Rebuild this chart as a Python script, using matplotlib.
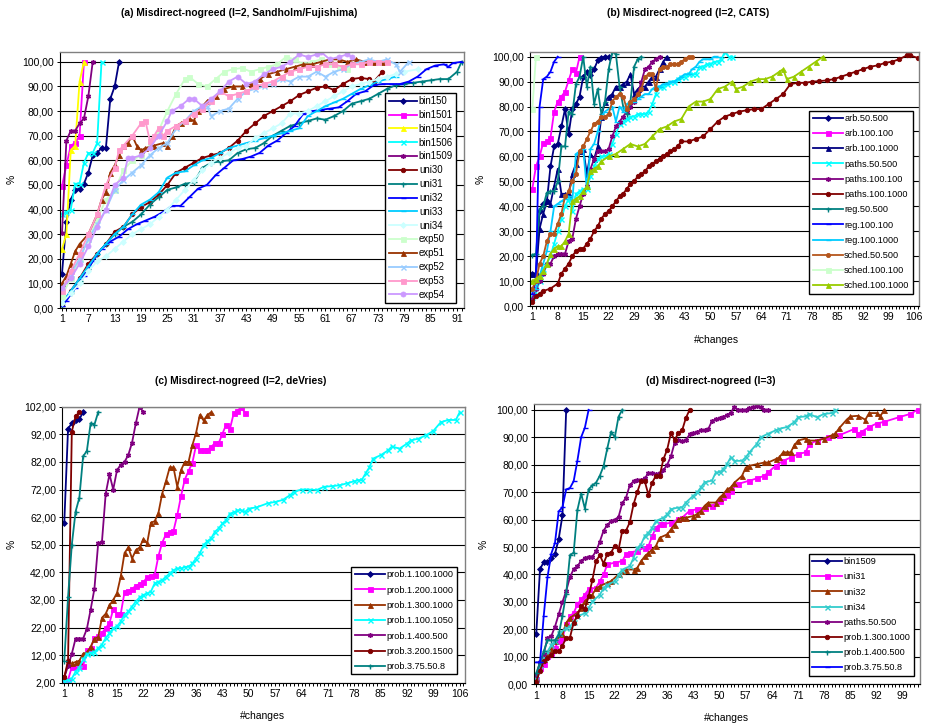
import matplotlib
matplotlib.use("Agg")
import matplotlib.pyplot as plt

plt.rcParams['font.family'] = ['Liberation Sans', 'DejaVu Sans']

# ---------------- Panel (a) ----------------
a_bin150 = [14, 35, 44, 48, 48.5, 50.5, 55, 62, 63, 65, 65, 85, 90, 100]
a_bin1501 = [49.5, 58, 66, 67, 70, 100]
a_bin1504 = [24, 30, 64, 66, 92, 100]
a_bin1506 = [38, 39, 40, 50.5, 50.5, 59, 63, 63, 67, 100]
a_bin1509 = [30.5, 68, 72, 72, 75, 77, 86, 100]
a_uni30_x = [1,3,5,7,9,11,13,15,17,19,21,23,25,27,29,31,33,35,37,39,41,43,45,47,49,51,53,55,57,59,61,63,65,67,69,71,72,74]
a_uni30_y = [1.5,7,12,18,22,26,31,33,38,41,43,46,50,55,57,59,61,62,63,65,68,72,75,78,80,82,84,86.5,88,89.5,90,88.5,91,93,93.5,93,92,96]
a_uni31_x = [1,3,5,7,9,11,13,15,17,19,21,23,25,27,29,31,33,35,37,39,41,43,45,47,49,51,53,55,57,59,61,63,65,67,69,71,73,75,77,79,81,83,85,87,89,91,92]
a_uni31_y = [1,6,11,16,22,26,30,33,35,38,42,45,48,49,50.5,51,57,59,59.5,60,63,64.5,65,67,70,72,74,75,76,77,76.5,78,80,83,84,85,87,89,90.5,91,91.5,92,92.5,93,93,96,100]
a_uni32_x = [1,2,4,6,8,10,12,14,16,18,20,22,24,26,28,30,32,34,36,38,40,42,44,46,48,50,52,54,56,58,60,62,64,66,68,70,72,74,76,78,80,82,84,86,88,89,90,92]
a_uni32_y = [1,3,8,13,19,24,27,29,32,34,35.5,37,39,41.5,41.5,45,48.5,50,54,57,60,60.5,61.5,63,66,68,71,74,79,80,80.5,81,81.5,84,87,88,90.5,91,91,91,92,94,97,98.5,99,98,99.5,100]
a_uni33_x = list(range(1, 78, 2))
a_uni33_y = [2,7,12,17,22,26,30,33,38,42,44,47,53,55,55.5,58,60,61,63,65,66,67,68,69,70,71,72,73,78,80,82,83.5,85,87,89,90.5,92,93,94]
a_uni34_x = list(range(1, 80, 2)) + [82]
a_uni34_y = [2,6,10,15,19,21,24,27,30,32,34,37,40,44,48,52,56,59,61,63,65,66,69,71,73,75,79,79,80,82,84,86,88,90,91,92,93,94,95,96,97]
a_exp50_x = [1,3,5,7,9,11,13,15,17,19,21,23,25,27,29,30,32,34,36,38,40,42,44,46,48,50,52,54,56,58,60,62,64,66]
a_exp50_y = [5,12,20,28,36,44,48,56,60,62,66,72,80,87,93,94,91,90,93,96,97,97.5,96,97,98,99,102,101,99,100,101,99,98,97]
a_exp51_x = [1,2,3,4,5,7,9,10,11,12,13,14,15,16,17,18,19,20,22,24,25,26,27,28,29,30,31,32,33,34,36,38,40,42,44,46,48,50,52,54,56,58,60,62,64,66,68,70,72,74]
a_exp51_y = [10,13,18,23,26,30,38,44,47,55,58,62,66,67,70,66,64,65,66,67,66,70,74,75,76,77,76,80,82,84,86,89,90,90,91,93,95,96,97,98,99,99,100,101,101,100,101,100,100,100]
a_exp52_x = [1,3,5,7,9,11,13,15,17,19,21,23,25,27,29,31,33,34,35,37,39,41,43,45,47,49,51,53,55,57,59,61,63,65,67,69,71,73,75,77,78,80]
a_exp52_y = [8,14,20,28,34,40,48,52,55,58,62,65,67,73,76,80,82,82,78,80,81,85,88,89,90,91,93,92,94,94,96,94,96,97,99,100,101,100,101,99,96,100]
a_exp53_x = [1,3,5,7,9,11,13,14,15,17,19,20,21,22,23,24,25,27,29,31,33,35,37,39,41,43,45,47,49,51,53,55,57,59,61,63,65,67,69,71,73,75]
a_exp53_y = [7,15,22,30,38,50,57,64,66,70,75,76,68,70,73,70,72,74,76,79,81,84,88,86,87,88,90,91,92,94,96,97,98,98,99,99,98,99,99,100,100,100]
a_exp54_x = [1,3,5,7,9,11,13,15,16,17,19,21,23,25,26,28,30,31,33,35,37,39,41,43,45,47,49,51,53,55,57,59,60,62,64,66,67]
a_exp54_y = [8,12,18,25,33,40,50,53,61,61,62,65,70,76,80,82,85,85,82,85,88,92,94,91,92,95,97,98,100,103,102,103,104,101,102,103,102]

# ---------------- Panel (b) ----------------
b_arb50_500 = [13,13,38,41,42,56,64,65,72,79,69,79,81,84,92,94,92.5,95,98.5,99.5,100,100]
b_arb100_100 = [47,56,60,65.5,66,67.5,78,82,84,86,90.5,95,93.5,100]
b_arb100_1000 = [13,13,31,37,42,41,48,55,45,45,45,53,57,62,63,53,61,59,64,76,82,84,85,88,88,89,90,93,85,87,88,88,90,92,92,95,98,100]
b_paths50_500 = [3.5,5,10,15,17,20,25,30,35,40,43,38,45,46,47,47,52,56,59,60,60,61,65,69,73,74,75,76,76,77,77,77,78,81,85,88,88,89,90,90,91,92,92,93,93,93,96,96,97,97,98,98,99,102,100,100]
b_paths100_100 = [3,7,10,13,17,17,20,21,21,21,26,27,35,40,45,48,55,59,62,62,62,63,68,72,74,76,78,80,82,85,90,95,96,98,99,100]
b_paths100_1000_x = [1,2,3,4,6,8] + list(range(9, 43)) + list(range(44, 105, 2)) + [105, 107]
b_paths100_1000_y = [1.5,4,5,6,7,9,13,15,17,20,22,23,23,25,27,30,32,35,37,38,40,42,44,45,47,49,50,52,53,54,56,57,58,59,60,61,62,63,64,66,66,67,68,71,74,76,77,78,78.5,79,79,81,83,85,89,89.5,89.5,90,90.2,90.5,91,92,93,94,95,96,96.5,97.5,98,99,100.5,100.5,99.5]
b_reg50_500 = [20.5,21,39,40,45.5,46,46,50,64,64,78,77,89,92,100,88,96,81,87,77,82,95,102,101,88,80,77,82,96,99,100]
b_reg100_100 = [5,10,80,91,92,94,98,100]
b_reg100_1000 = [6,7,12,17,22,30,40,41,42,43,44,42,61,62,63,47,63,65,70,76,78,79,80,74,80,78,81,82,82,83,84,85,85,87,88,88,89,89,90,90,91,92,93,93,95,96,98,99,99,99,100,100]
b_sched50_500 = [7,10,17,20,26,29,29,33,37,44,46,50,53,62,64,67,70,73,74,76,76,77,82,84,85,84,79,82,83,85,87,92,93,93,87,95,96,96,97,97,97,98,99,100,100]
b_sched100_100 = [79,100]
b_sched100_1000_x = list(range(1, 21)) + list(range(22, 57, 2)) + [57,59,61,63,65,67,69,70,71,73,75,77,79,81]
b_sched100_1000_y = [10,11,12,14,17,21,23,24,24,26,29,42,43,44,46,48,54,55,56,58,60,61,63,65,64,65,68,71,72,74,75,80,82,82,83,87,88,90,87,88,90,91,91,92,94,95,91,92,94,96,98,100]

# ---------------- Panel (c) ----------------
c_p1_100_1000 = [60,94,96,97,97.5,100]
c_p1_200_1000 = [2.5,3,7.7,8,8.3,8,13.9,14.5,18.2,18.8,20,21.8,23.6,28.6,27,27,34.8,35.3,36,37.1,37.8,38.4,40.2,40.5,41,47.9,52.7,55.8,56.7,57,62.7,69.6,75.6,78.7,81.6,88,86.2,86.2,86.4,87.4,88.8,88.8,92.2,95.5,94,99.6,100.6,101.8,99.7]
c_p1_300_1000 = [4,9,9,9.5,10,12.5,13,15,18,18.5,25.5,27,30,32,34.5,40.5,49,51,47,50,51,54,52.5,60,60.5,63.5,70.5,75,80,80,73,79,82,82,88,92.5,99,97,99,100]
c_p1_100_1050_x = list(range(1, 51)) + [52,55,57,59,61,62,64,66,68,70,72,74,76,78,79,80,81,82,83,85,87,88,90,92,93,95,97,99,101,103,105,106]
c_p1_100_1050_y = [2.5,3,3.5,6,7.5,10.5,12.5,12.8,13.2,14.5,15.8,18.2,20,21.8,22.4,24.2,26.6,27.8,29.6,31.4,32.9,33.8,34.4,35,38,38.6,39.2,40.4,41.6,42.8,43.4,43.4,44,44,45.2,47,48.9,51.9,53.3,54.3,56.7,57.9,59.7,60.9,63.3,63.7,64.5,64.5,63.9,65.1,
                   65.5,67,67.5,68.2,70,71.2,72,72,71.8,73,73.2,73.5,74.2,75,75.4,75.4,77.8,80,83.2,84.4,86.2,87.6,86.8,88.6,89.8,90.4,91.6,93.2,96.4,97.2,97.2,100]
c_p1_400_500 = [4,8,12.5,18,18,18,21.5,28.5,36,52.5,53,70.5,77.5,72,79,81,82,84.5,89,96,102,100]
c_p3_200_1500 = [4,10,93,98.5,100]
c_p3_75_50_8 = [10,33,52,64,69,84,86,96,95.5,100]

# ---------------- Panel (d) ----------------
d_bin1509 = [18.5,42,44.5,44.5,46,47.5,53,61.5,100]
d_uni31_x = list(range(1, 16)) + [17,18,19,20,22,24,25,26,28,30,31,32,33,34,35,37,39,40,42,44,46,48,50,51,52,53,55,58,60,62,63,65,67,69,71,73,74,76,79,82,86,87,88,90,92,94,98,101,103]
d_uni31_y = [1.8,6,7.3,10.3,11.5,13.3,15.7,16.9,21.8,24.8,26,29.1,30.9,32.7,34.6,35.2,37.6,40,43.7,44.3,44.9,47.4,48,48.6,49.8,50.4,54,57,58.3,58.3,58.9,60.1,60.7,63.2,63.8,64.4,65,66.9,68.1,69,70.5,73,74.2,75,76,77.2,79.6,81.4,82.6,83.9,84.5,87.5,88.8,90,90.7,93,91.3,92,93.7,95,95.6,97.3,98.5,100]
d_uni32_x = [1,2,3,4,5,6,8,9,10,12,13,14,16,17,18,20,21,23,24,25,27,28,29,30,31,32,33,34,36,37,38,39,40,41,43,44,45,46,47,49,50,51,52,53,54,56,57,58,60,62,63,65,66,67,68,69,70,71,73,74,76,78,80,81,82,84,85,87,89,90,92,93,94]
d_uni32_y = [2.4,7.9,9.1,11.5,12.8,15.8,18.2,22.4,24.2,26,27.9,30.3,32.7,34.9,35.8,37,37.6,40,41.4,41.8,41.8,42.4,44.8,46.6,47.9,49.1,50.4,53.4,54.6,56.4,58.2,60.1,60.7,60.7,61.3,62,63.1,65,66.2,66.2,68,69.2,71,71.7,73.5,75.9,78.9,79.6,80.2,80.8,80.8,82,82.7,84.5,84.5,84.5,87,88.8,89.5,88.8,88.8,89.5,90.7,91.4,93.3,96.4,97.6,97.8,96.4,98.8,98.8,97.6,100]
d_uni34_x = [1,2,3,4,5,6,7,9,10,11,12,14,15,16,18,19,20,22,23,24,26,27,28,29,30,31,32,33,35,36,37,39,40,41,43,44,45,46,48,49,50,51,52,53,54,56,57,58,60,61,63,65,66,68,70,71,73,74,76,78,80,81]
d_uni34_y = [2,7,9.5,11.9,14.3,15.6,18.6,20.4,21,22.8,24.7,25.9,27.7,30.2,32.6,35.1,36.3,37.5,39.9,41.8,43,46,49.7,50.9,54,55.2,57,59.5,60.7,61.9,63.8,64.4,64.4,66.2,68.7,69.9,71.7,73.6,74.2,77.2,77.2,78.4,80.2,82.7,81.4,81.4,82.7,84.5,87.6,90,91.3,92.5,93.1,93.7,95.5,97.3,97.6,98.5,97.3,98.5,98.8,100]
d_paths50_500 = [3.5,8,11,17,17.5,21,25.5,30,34,39,42,43,45,46,46.5,46.5,48.5,52,56,58,59.5,60,61,66,68,72.5,74,74.5,74.5,75,77,77,76.5,77,78,80,83,88,89,88.5,89,91,91.5,92,92.5,92.5,93,96,96.5,97,97.5,98,99,101,100,100,100,100.5,101,101.5,101,100,100]
d_p1_300_1000 = [1,5,8.5,9.5,10.5,12,12,14,17,17,22.5,25,28.5,27.5,32,38,45,47,44,47.5,48,50.5,49,56,56,59,65.5,70,74,74,69,73.5,76,76,82,85.5,91.5,89,91.5,92.5,97,100]
d_p1_400_500 = [4,8,12,16,16,16,18,25,33,47,48,63.5,69.5,64,71,72.5,73.5,76,79.5,86,92,90,97.5,100]
d_p3_75_50_8 = [8,8,25,39,47.5,51.5,63,64.5,71,71.5,74,81.5,90,93.5,100]

# ---------------- styling helpers ----------------
W, H = 928, 727
fig = plt.figure(figsize=(W / 100, H / 100), dpi=100)

AST = (6, 2, 0)


def make_axes(l, t, r, b):
    return fig.add_axes([l / W, 1 - b / H, (r - l) / W, (b - t) / H])


def fmt(v):
    return ("%.2f" % v).replace('.', ',')


def seq(y):
    return list(range(1, len(y) + 1))


def draw(ax, x, y, color, marker, label, ms=3.6):
    mew = 1.0 if marker in ('x', '+', '_', AST) else 0.6
    ax.plot(x, y, color=color, lw=1.3, marker=marker, ms=ms, mew=mew,
            mec=color, mfc=color, label=label, clip_on=True)


def setup(ax, xmax, xticks, yticks, ylim):
    ax.set_xlim(0.5, xmax)
    ax.set_ylim(*ylim)
    ax.set_yticks(yticks)
    ax.set_yticklabels([fmt(v) for v in yticks], fontsize=7.5)
    ax.set_xticks(xticks)
    ax.set_xticklabels([str(v) for v in xticks], fontsize=7.5)
    ax.set_xticks(list(range(1, int(xmax) + 1)), minor=True)
    ax.tick_params(axis='x', which='both', direction='out', length=2.5, width=0.7, pad=2)
    ax.tick_params(axis='y', direction='out', length=2.5, width=0.7, pad=2)
    ax.grid(axis='y', color='black', lw=0.8)
    ax.set_axisbelow(True)
    for s in ('top', 'right'):
        ax.spines[s].set_color('#808080')
        ax.spines[s].set_linewidth(1.0)
    ax.spines['left'].set_color('black')
    ax.spines['bottom'].set_color('black')
    ax.spines['left'].set_linewidth(0.8)
    ax.spines['bottom'].set_linewidth(0.8)


def legend(ax, x0, ytop, spacing, fs=6.6, hl=3.3):
    lg = ax.legend(loc='upper left', bbox_to_anchor=(x0, ytop), borderaxespad=0,
                   frameon=True, fancybox=False, edgecolor='black', framealpha=1,
                   fontsize=fs, handlelength=hl, handletextpad=0.15,
                   labelspacing=spacing, borderpad=0.35)
    lg.get_frame().set_linewidth(1.0)
    return lg


# ---------------- (a) ----------------
axa = make_axes(59.8, 52, 463.7, 308)
draw(axa, seq(a_bin150), a_bin150, '#000080', 'D', 'bin150', 3)
draw(axa, seq(a_bin1501), a_bin1501, '#FF00FF', 's', 'bin1501')
draw(axa, seq(a_bin1504), a_bin1504, '#FFFF00', '^', 'bin1504')
draw(axa, seq(a_bin1506), a_bin1506, '#00FFFF', 'x', 'bin1506')
draw(axa, seq(a_bin1509), a_bin1509, '#800080', AST, 'bin1509')
draw(axa, a_uni30_x, a_uni30_y, '#800000', 'o', 'uni30', 3.2)
draw(axa, a_uni31_x, a_uni31_y, '#008080', '+', 'uni31')
draw(axa, a_uni32_x, a_uni32_y, '#0000FF', '_', 'uni32')
draw(axa, a_uni33_x, a_uni33_y, '#00CCFF', '_', 'uni33')
draw(axa, a_uni34_x, a_uni34_y, '#CCFFFF', 'D', 'uni34', 3)
draw(axa, a_exp50_x, a_exp50_y, '#CCFFCC', 's', 'exp50')
draw(axa, a_exp51_x, a_exp51_y, '#993300', '^', 'exp51')
draw(axa, a_exp52_x, a_exp52_y, '#99CCFF', 'x', 'exp52')
draw(axa, a_exp53_x, a_exp53_y, '#FF99CC', 's', 'exp53')
draw(axa, a_exp54_x, a_exp54_y, '#CC99FF', 'o', 'exp54')
setup(axa, 92.5, list(range(1, 92, 6)), list(range(0, 101, 10)), (0, 104))
legend(axa, 0.806, 0.841, 0.40, 6.9, 3.0)

# ---------------- (b) ----------------
axb = make_axes(530.5, 51.7, 919.4, 306)
draw(axb, seq(b_arb50_500), b_arb50_500, '#000080', 'D', 'arb.50.500', 3)
draw(axb, seq(b_arb100_100), b_arb100_100, '#FF00FF', 's', 'arb.100.100')
draw(axb, seq(b_arb100_1000), b_arb100_1000, '#000080', '^', 'arb.100.1000')
draw(axb, seq(b_paths50_500), b_paths50_500, '#00FFFF', 'x', 'paths.50.500')
draw(axb, seq(b_paths100_100), b_paths100_100, '#800080', AST, 'paths.100.100')
draw(axb, b_paths100_1000_x, b_paths100_1000_y, '#800000', 'o', 'paths.100.1000', 3.2)
draw(axb, seq(b_reg50_500), b_reg50_500, '#008080', '+', 'reg.50.500')
draw(axb, seq(b_reg100_100), b_reg100_100, '#0000FF', '_', 'reg.100.100')
draw(axb, seq(b_reg100_1000), b_reg100_1000, '#00CCFF', '_', 'reg.100.1000')
draw(axb, seq(b_sched50_500), b_sched50_500, '#B5561D', 'o', 'sched.50.500', 3.0)
draw(axb, seq(b_sched100_100), b_sched100_100, '#CCFFCC', 's', 'sched.100.100')
draw(axb, b_sched100_1000_x, b_sched100_1000_y, '#99CC00', '^', 'sched.100.1000')
setup(axb, 107.5, list(range(1, 107, 7)), list(range(0, 101, 10)), (0, 102))
legend(axb, 0.717, 0.768, 0.68)

# ---------------- (c) ----------------
axc = make_axes(62.4, 406.7, 465.3, 682.7)
draw(axc, seq(c_p1_100_1000), c_p1_100_1000, '#000080', 'D', 'prob.1.100.1000', 3)
draw(axc, seq(c_p1_200_1000), c_p1_200_1000, '#FF00FF', 's', 'prob.1.200.1000')
draw(axc, seq(c_p1_300_1000), c_p1_300_1000, '#993300', '^', 'prob.1.300.1000')
draw(axc, c_p1_100_1050_x, c_p1_100_1050_y, '#00FFFF', 'x', 'prob.1.100.1050')
draw(axc, seq(c_p1_400_500), c_p1_400_500, '#800080', AST, 'prob.1.400.500')
draw(axc, seq(c_p3_200_1500), c_p3_200_1500, '#800000', 'o', 'prob.3.200.1500', 3.2)
draw(axc, seq(c_p3_75_50_8), c_p3_75_50_8, '#008080', '+', 'prob.3.75.50.8')
setup(axc, 107.5, list(range(1, 107, 7)), list(range(2, 103, 10)), (2, 102))
legend(axc, 0.7175, 0.419, 0.69)

# ---------------- (d) ----------------
axd = make_axes(534.4, 404.3, 919.6, 684.3)
draw(axd, seq(d_bin1509), d_bin1509, '#000080', 'D', 'bin1509', 3)
draw(axd, d_uni31_x, d_uni31_y, '#FF00FF', 's', 'uni31')
draw(axd, d_uni32_x, d_uni32_y, '#993300', '^', 'uni32')
draw(axd, d_uni34_x, d_uni34_y, '#33CCCC', 'x', 'uni34')
draw(axd, seq(d_paths50_500), d_paths50_500, '#800080', AST, 'paths.50.500')
draw(axd, seq(d_p1_300_1000), d_p1_300_1000, '#800000', 'o', 'prob.1.300.1000', 3.2)
draw(axd, seq(d_p1_400_500), d_p1_400_500, '#008080', '+', 'prob.1.400.500')
draw(axd, seq(d_p3_75_50_8), d_p3_75_50_8, '#0000FF', '_', 'prob.3.75.50.8')
setup(axd, 103.5, list(range(1, 100, 7)), list(range(0, 101, 10)), (0, 102))
legend(axd, 0.712, 0.465, 0.67)

# ---------------- titles and labels ----------------
def ftext(x, y, s, **kw):
    fig.text(x / W, 1 - y / H, s, ha='center', va='center', **kw)

ftext(239, 13, '(a) Misdirect-nogreed (l=2, Sandholm/Fujishima)', fontsize=7.4, fontweight='bold')
ftext(688.5, 13, '(b) Misdirect-nogreed (l=2, CATS)', fontsize=7.4, fontweight='bold')
ftext(241, 381, '(c) Misdirect-nogreed (l=2, deVries)', fontsize=7.4, fontweight='bold')
ftext(711, 381, '(d) Misdirect-nogreed (l=3)', fontsize=7.4, fontweight='bold')

ftext(12, 179, '%', fontsize=7.5, rotation=90)
ftext(481, 179, '%', fontsize=7.5, rotation=90)
ftext(12, 544, '%', fontsize=7.5, rotation=90)
ftext(484, 544, '%', fontsize=7.5, rotation=90)

ftext(717, 340, '#changes', fontsize=7.5)
ftext(263, 716, '#changes', fontsize=7.5)
ftext(727, 718, '#changes', fontsize=7.5)

fig.savefig('out.png', dpi=100)
